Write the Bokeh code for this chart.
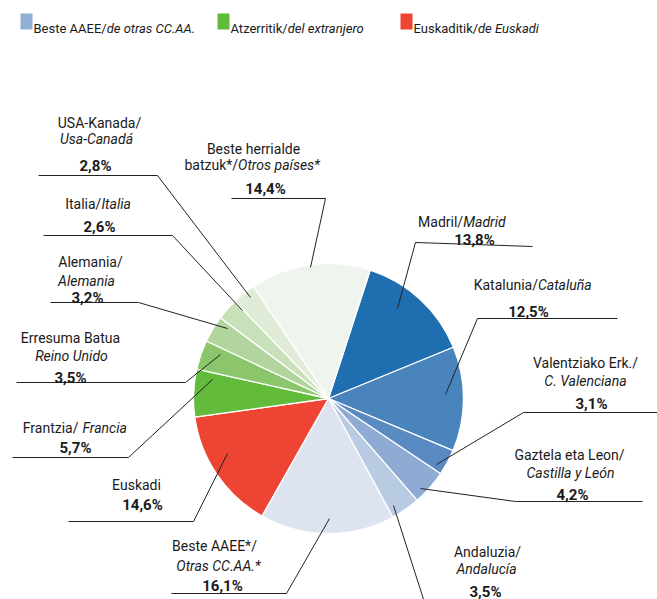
import math
from bokeh.plotting import figure
from bokeh.models import Range1d, ColumnDataSource
from bokeh.core.properties import value
from bokeh.embed import file_html
from bokeh.resources import INLINE

# ---------------- data ----------------
categories = ["Madrid", "Cataluña", "C. Valenciana", "Castilla y León", "Andalucía",
              "Otras CC.AA.*", "Euskadi", "Francia", "Reino Unido", "Alemania",
              "Italia", "Usa-Canadá", "Otros países*"]
values = [13.8, 12.5, 3.1, 4.2, 3.5, 16.1, 14.6, 5.7, 3.5, 3.2, 2.6, 2.8, 14.4]
colors = ["#1f6fb0", "#4a84bd", "#5a8ac2", "#8fabd3", "#b9cae3", "#dee3f0",
          "#ee4433", "#62bb3b", "#8bc66d", "#b1d59c", "#c9e1b9", "#e0ecd8", "#eff5ee"]

legend_eu = ["Beste AAEE/", "Atzerritik/", "Euskaditik/"]
legend_es = ["de otras CC.AA.", "del extranjero", "de Euskadi"]
legend_colors = ["#92afd6", "#62bb3b", "#ee4433"]

# ---------------- layout helpers ----------------
W, H = 657, 599
FONT = "Roboto"
TC = "#1a1a1a"

def X(x):
    return x

def Y(y):
    return H - y

# approximate Roboto advance widths (em) for centring mixed-style lines
CW = {'a': .544, 'b': .56, 'c': .523, 'd': .563, 'e': .529, 'f': .348, 'g': .561,
      'h': .551, 'i': .243, 'j': .239, 'k': .496, 'l': .243, 'm': .863, 'n': .552,
      'o': .558, 'p': .56, 'r': .338, 's': .518, 't': .327, 'u': .551, 'v': .492,
      'w': .749, 'x': .496, 'y': .473, 'z': .496, 'ñ': .552, 'í': .243, 'á': .544,
      'A': .652, 'B': .625, 'C': .651, 'D': .656, 'E': .568, 'F': .553, 'I': .272,
      'K': .628, 'L': .538, 'M': .873, 'O': .688, 'R': .618, 'S': .594, 'U': .649,
      ' ': .248, '/': .412, '*': .431, '.': .263, '-': .276}

def tw(s, size):
    return sum(CW.get(c, .55) for c in s) * size

p = figure(width=W, height=H, output_backend="svg", toolbar_location=None,
           x_range=Range1d(0, W), y_range=Range1d(0, H),
           x_axis_type=None, y_axis_type=None, min_border=0)
p.grid.visible = False
p.outline_line_color = None
p.background_fill_color = "white"
p.border_fill_color = "white"

# ---------------- pie ----------------
CX, CY, R = 328, 398, 135
START = 18.0  # degrees clockwise from 12 o'clock
total = sum(values)
starts, ends = [], []
acc = START
for v in values:
    a0 = acc
    a1 = acc + v / total * 360.0
    starts.append(math.radians(90 - a0))
    ends.append(math.radians(90 - a1))
    acc = a1
src = ColumnDataSource(dict(start=starts, end=ends, color=colors, cat=categories, val=values))
p.wedge(x=X(CX), y=Y(CY), radius=R, start_angle="start", end_angle="end",
        direction="clock", fill_color="color", line_color="white", line_width=1.3,
        source=src)

# ---------------- leader lines ----------------
leaders = [
    [(38, 175), (157, 175), (250, 297)],
    [(231, 198), (325, 198), (310, 267)],
    [(43, 235), (172, 235), (242, 310)],
    [(50, 302), (138, 302), (227, 328)],
    [(16, 382), (185, 382), (220, 354)],
    [(12, 457), (128, 457), (212, 379)],
    [(68, 521), (193, 521), (227, 453)],
    [(171, 593), (286, 593), (329, 518)],
    [(532, 246), (415, 242), (397, 308)],
    [(617, 318), (477, 318), (445, 394)],
    [(660, 412), (523, 412), (436, 464)],
    [(642, 501), (515, 501), (420, 488)],
    [(393, 505), (425, 605)],
]
p.multi_line(xs=[[X(a) for a, b in l] for l in leaders],
             ys=[[Y(b) for a, b in l] for l in leaders],
             line_color="#222222", line_width=1)

# ---------------- texts ----------------
LS = 14   # label size
BS = 15   # bold percentage size

def txt(x, y, s, style="normal", align="center", size=LS, color=TC):
    p.text(x=[X(x)], y=[Y(y)], text=[s], text_font=value(FONT),
           text_font_size=f"{size}px", text_font_style=style,
           text_align=align, text_baseline="alphabetic", text_color=color)

def mixed(cx, y, normal, italic, size=LS, gap=0.0):
    total_w = tw(normal, size) + gap + tw(italic, size)
    jx = cx - total_w / 2 + tw(normal, size)
    txt(jx, y, normal, "normal", "right", size)
    txt(jx + gap, y, italic, "italic", "left", size)

def pct(v):
    return f"{v:.1f}".replace(".", ",") + "%"

# USA-Canada
txt(99, 122, "USA-Kanada/")
txt(96, 138, "Usa-Canadá", "italic")
txt(95, 165, pct(values[11]), "bold", size=BS)
# Otros paises
txt(253, 148, "Beste herrialde")
mixed(253, 164, "batzuk*/", "Otros países*")
txt(265, 188, pct(values[12]), "bold", size=BS)
# Italia
mixed(98, 203, "Italia/", "Italia")
txt(99, 226, pct(values[10]), "bold", size=BS)
# Alemania
txt(90, 261, "Alemania/")
txt(86, 280, "Alemania", "italic")
txt(87, 297, pct(values[9]), "bold", size=BS)
# Reino Unido
txt(70, 337, "Erresuma Batua")
txt(71, 355, "Reino Unido", "italic")
txt(70, 377, pct(values[8]), "bold", size=BS)
# Francia
mixed(75, 427, "Frantzia/", "Francia", gap=4)
txt(75, 447, pct(values[7]), "bold", size=BS)
# Euskadi
txt(136, 484, "Euskadi")
txt(142, 504, pct(values[6]), "bold", size=BS)
# Otras CC.AA.
txt(214, 545, "Beste AAEE*/")
txt(218, 565, "Otras CC.AA.*", "italic")
txt(222, 585, pct(values[5]), "bold", size=BS)
# Madrid
mixed(462, 221, "Madril/", "Madrid")
txt(474, 239, pct(values[0]), "bold", size=BS)
# Cataluña
mixed(533, 284, "Katalunia/", "Cataluña")
txt(528, 311, pct(values[1]), "bold", size=BS)
# C. Valenciana
txt(585, 362, "Valentziako Erk./")
txt(585, 380, "C. Valenciana", "italic")
txt(591, 403, pct(values[2]), "bold", size=BS)
# Castilla y Leon
txt(569, 454, "Gaztela eta Leon/")
txt(570, 472, "Castilla y León", "italic")
txt(572, 494, pct(values[3]), "bold", size=BS)
# Andalucia
txt(487, 551, "Andaluzia/")
txt(486, 568, "Andalucía", "italic")
txt(485, 591, pct(values[4]), "bold", size=BS)

# ---------------- legend ----------------
LG = 13
sq_left = [20, 217, 400]
for i in range(3):
    L = sq_left[i]
    p.quad(left=[X(L)], right=[X(L + 12)], top=[Y(13)], bottom=[Y(29)],
           fill_color=legend_colors[i], line_color=None)
    x0 = L + 13
    txt(x0, 28, legend_eu[i], "normal", "left", LG)
    txt(x0 + tw(legend_eu[i], LG), 28, legend_es[i], "italic", "left", LG)

open("out.html", "w").write(file_html(p, INLINE))
